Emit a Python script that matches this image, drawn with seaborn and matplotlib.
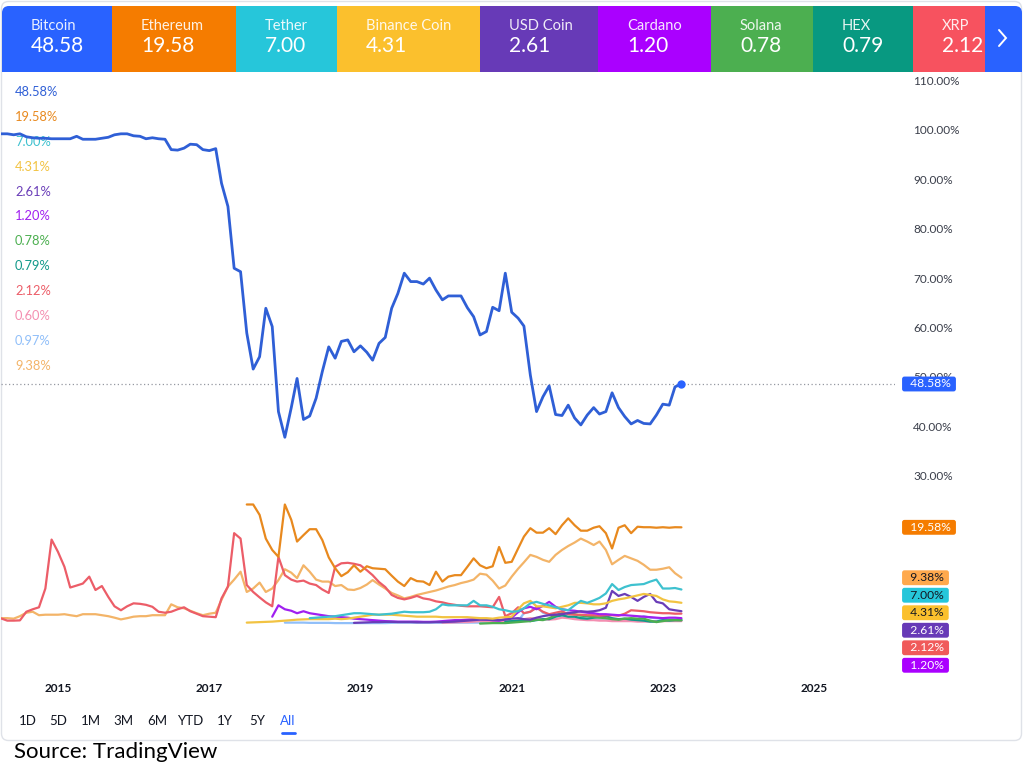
import matplotlib
matplotlib.use("Agg")
import matplotlib.pyplot as plt
import matplotlib.transforms as mtransforms
from matplotlib.patches import FancyBboxPatch
import pandas as pd
import seaborn as sns

# ---------------- data (monthly dominance, %) ----------------
coins = ["Bitcoin", "Ethereum", "Tether", "Binance Coin", "USD Coin", "Cardano",
         "Solana", "HEX", "XRP", "Polkadot", "Dogecoin", "Others"]

btc_start = "2014-04"
btc = [99.2, 99.2, 99.0, 99.2, 98.6, 98.4, 98.3, 98.3, 98.2, 98.2,
       98.2, 98.2, 98.7, 98.1, 98.1, 98.1, 98.3, 98.5, 99.0, 99.2,
       99.2, 98.8, 98.7, 98.2, 98.4, 98.2, 98.1, 96.0, 95.9, 96.3,
       97.1, 97.0, 96.0, 95.8, 96.2, 89.2, 84.5, 72.0, 71.3, 58.9,
       51.6, 54.1, 63.9, 60.2, 43.0, 37.8, 43.8, 49.7, 41.4, 42.1,
       45.7, 51.1, 56.1, 53.8, 57.2, 57.5, 55.1, 56.3, 55.0, 53.4,
       56.8, 58.0, 63.9, 66.9, 71.0, 69.3, 69.3, 68.8, 70.0, 67.6,
       65.6, 66.4, 66.4, 66.4, 64.0, 62.2, 58.5, 59.2, 64.1, 63.4,
       71.0, 63.1, 61.9, 60.3, 50.4, 43.0, 46.0, 48.2, 42.4, 42.2,
       44.3, 41.7, 40.3, 42.3, 43.8, 42.5, 43.0, 46.8, 43.8, 42.0,
       40.5, 41.2, 40.6, 40.5, 42.3, 44.5, 44.3, 48.0, 48.58]

eth_start = "2017-07"
eth = [24.2, 24.2, 22.1, 17.3, 15.0, 13.6, 24.2, 21.1, 16.7, 18.0,
       19.2, 19.2, 17.0, 13.5, 11.3, 9.7, 10.5, 11.9, 10.6, 11.7,
       11.3, 11.2, 11.1, 9.8, 8.6, 7.7, 9.3, 8.7, 8.6, 7.9,
       10.6, 8.6, 9.6, 9.9, 9.9, 11.6, 13.3, 11.9, 11.3, 11.7,
       15.6, 12.4, 12.6, 15.3, 17.7, 19.4, 18.5, 18.5, 19.4, 18.2,
       20.0, 21.4, 20.0, 18.9, 18.9, 19.5, 19.8, 18.4, 15.3, 19.5,
       20.0, 18.4, 19.7, 19.6, 19.6, 19.5, 19.6, 19.5, 19.6, 19.58]

usdt_start = "2018-05"
usdt = [1.2, 1.3, 1.4, 1.5, 1.6, 1.8, 2.0, 2.2, 2.2, 2.1,
        2.0, 1.9, 2.0, 2.1, 2.3, 2.5, 2.4, 2.4, 2.4, 2.5,
        3.0, 4.0, 3.8, 3.8, 3.8, 3.8, 4.7, 3.8, 3.8, 3.5,
        3.0, 2.8, 2.5, 2.6, 3.2, 4.2, 4.5, 4.1, 3.8, 3.4,
        3.0, 2.8, 3.8, 4.7, 4.3, 4.8, 5.3, 6.2, 8.1, 6.9,
        7.5, 7.9, 8.0, 8.1, 8.6, 9.0, 7.2, 7.2, 7.3, 7.00]

bnb_start = "2017-07"
bnb = [0.3, 0.35, 0.4, 0.45, 0.5, 0.6, 0.7, 0.8, 0.9, 0.95,
       1.0, 1.0, 1.0, 1.0, 1.1, 1.0, 1.1, 1.3, 1.5, 1.7,
       1.9, 1.9, 1.9, 1.9, 1.8, 1.7, 1.6, 1.5, 1.5, 1.5,
       1.5, 1.4, 1.4, 1.4, 1.4, 1.4, 1.3, 1.2, 1.2, 1.1,
       1.3, 1.4, 1.5, 3.0, 4.2, 4.7, 3.6, 3.6, 3.4, 3.2,
       3.5, 3.8, 4.3, 4.3, 4.2, 4.0, 4.0, 4.2, 4.7, 5.0,
       5.2, 5.5, 5.8, 6.1, 5.9, 5.7, 5.0, 4.6, 4.5, 4.31]

usdc_start = "2018-12"
usdc = [0.25, 0.3, 0.35, 0.4, 0.4, 0.45, 0.45, 0.4, 0.4, 0.4,
        0.35, 0.35, 0.35, 0.4, 0.4, 0.45, 0.5, 0.6, 0.7, 0.8,
        0.9, 0.9, 0.8, 0.8, 0.9, 1.1, 1.2, 1.0, 0.9, 1.3,
        1.6, 1.8, 1.9, 2.0, 2.2, 2.4, 2.6, 2.5, 2.6, 2.8,
        3.3, 6.7, 5.7, 6.1, 5.5, 4.7, 5.5, 6.1, 4.5, 4.2,
        3.0, 2.8, 2.61]

ada_start = "2017-11"
ada = [1.5, 3.8, 3.0, 2.7, 2.2, 2.6, 2.2, 2.0, 1.8, 1.6,
       1.5, 1.4, 1.3, 1.1, 1.0, 0.9, 0.8, 0.7, 0.6, 0.55,
       0.5, 0.5, 0.5, 0.5, 0.45, 0.45, 0.5, 0.6, 0.7, 0.8,
       0.8, 0.9, 1.0, 1.0, 0.9, 0.8, 0.7, 1.0, 1.3, 2.4,
       3.2, 3.5, 3.0, 3.7, 4.5, 3.5, 3.0, 2.8, 2.7, 2.5,
       2.3, 2.2, 2.0, 2.0, 1.9, 1.8, 1.8, 1.7, 1.6, 1.5,
       1.4, 1.3, 1.2, 1.3, 1.3, 1.20]

sol_start = "2020-08"
sol = [0.1, 0.15, 0.2, 0.2, 0.2, 0.3, 0.4, 0.5, 0.6, 0.9,
       0.8, 1.2, 1.8, 2.2, 2.2, 2.0, 1.7, 1.6, 1.5, 1.3,
       1.2, 1.0, 0.9, 1.1, 1.2, 1.1, 1.1, 0.7, 0.4, 0.6,
       0.8, 0.8, 0.78]

hex_start = "2020-12"
hex_ = [0.5, 0.6, 0.7, 0.8, 0.6, 0.8, 1.0, 1.0, 1.5, 1.8,
        1.5, 1.5, 1.2, 1.1, 1.3, 1.4, 1.6, 1.2, 1.0, 1.1,
        0.9, 0.8, 0.7, 0.5, 0.5, 0.8, 0.7, 0.8, 0.79]

xrp_start = "2014-04"
xrp = [1.15, 0.7, 0.7, 0.75, 2.5, 3.0, 3.4, 7.2, 17.1, 14.6,
       11.6, 7.4, 7.8, 8.2, 9.6, 6.9, 7.7, 5.5, 3.6, 2.8,
       3.6, 4.2, 4.1, 3.9, 3.5, 2.5, 2.3, 2.5, 3.0, 3.4,
       2.6, 2.1, 1.6, 1.5, 1.4, 5.2, 7.6, 18.4, 17.3, 7.9,
       6.5, 5.4, 4.4, 3.6, 13.6, 9.9, 9.0, 8.6, 8.8, 8.2,
       7.9, 7.0, 6.3, 11.6, 12.3, 12.4, 12.2, 11.9, 10.9, 9.9,
       8.5, 7.5, 5.9, 5.3, 5.0, 5.3, 5.7, 5.2, 5.0, 4.6,
       4.4, 4.1, 3.9, 3.7, 3.6, 3.6, 3.6, 3.5, 3.4, 5.5,
       1.6, 2.2, 3.4, 2.2, 2.5, 3.3, 2.5, 2.0, 2.3, 2.6,
       2.0, 1.9, 1.9, 1.8, 1.8, 1.7, 1.8, 1.8, 1.7, 2.1,
       2.8, 2.7, 2.6, 2.4, 2.3, 2.2, 2.2, 2.1, 2.12]

dot_start = "2020-02"
dot = [0.3, 0.3, 0.35, 0.4, 0.4, 0.5, 0.6, 0.6, 0.5, 0.5,
       0.5, 0.6, 0.8, 1.0, 1.2, 1.1, 1.0, 0.9, 1.0, 1.3,
       1.2, 1.0, 0.9, 0.8, 0.8, 0.7, 0.7, 0.6, 0.6, 0.6,
       0.6, 0.5, 0.5, 0.5, 0.6, 0.6, 0.6, 0.6, 0.60]

doge_start = "2018-01"
doge = [0.3, 0.3, 0.3, 0.3, 0.25, 0.25, 0.25, 0.25, 0.2, 0.2,
        0.2, 0.2, 0.2, 0.2, 0.2, 0.2, 0.2, 0.25, 0.3, 0.3,
        0.3, 0.3, 0.3, 0.3, 0.3, 0.3, 0.3, 0.3, 0.3, 0.3,
        0.3, 0.3, 0.3, 0.3, 0.3, 0.3, 0.5, 0.6, 2.2, 2.5,
        3.5, 2.3, 1.9, 1.8, 1.5, 1.4, 1.3, 1.2, 1.1, 1.0,
        0.9, 0.9, 0.9, 0.8, 0.8, 0.9, 1.0, 1.6, 1.3, 1.2,
        1.0, 1.0, 1.0, 0.97]

oth_start = "2014-04"
oth = [1.2, 1.2, 1.1, 1.6, 2.3, 2.5, 1.8, 1.9, 1.9, 1.9,
       2.0, 1.8, 1.6, 2.0, 2.0, 2.0, 1.8, 1.6, 1.3, 0.95,
       1.2, 1.5, 1.6, 1.6, 1.8, 1.8, 1.8, 4.0, 3.4, 3.2,
       2.7, 2.2, 1.8, 2.1, 2.3, 4.9, 7.6, 9.0, 10.6, 6.5,
       7.2, 8.4, 6.5, 7.2, 8.9, 11.1, 10.4, 9.3, 11.9, 10.6,
       9.0, 8.6, 8.6, 7.7, 7.9, 7.0, 6.9, 7.3, 8.0, 8.9,
       8.0, 7.2, 6.3, 5.8, 5.2, 5.5, 5.9, 6.2, 6.5, 6.8,
       7.2, 7.6, 7.9, 8.3, 8.6, 9.0, 10.2, 10.0, 8.8, 7.2,
       7.8, 9.6, 11.2, 12.5, 14.0, 13.6, 13.0, 12.6, 14.0, 15.0,
       15.8, 16.5, 17.3, 16.7, 16.0, 16.7, 15.0, 12.1, 13.0, 13.8,
       13.3, 12.8, 12.0, 11.0, 11.0, 11.2, 11.5, 10.3, 9.38]

# header tiles (top bar)
tile_names = ["Bitcoin", "Ethereum", "Tether", "Binance Coin", "USD Coin",
              "Cardano", "Solana", "HEX", "XRP"]
tile_values = ["48.58", "19.58", "7.00", "4.31", "2.61", "1.20", "0.78", "0.79", "2.12"]

# left legend (latest values) in display order
legend_labels = ["48.58%", "19.58%", "7.00%", "4.31%", "2.61%", "1.20%",
                 "0.78%", "0.79%", "2.12%", "0.60%", "0.97%", "9.38%"]

# price-scale badges
badge_coins = ["Bitcoin", "Ethereum", "Others", "Tether", "Binance Coin",
               "USD Coin", "XRP", "Cardano"]
badge_values = [48.58, 19.58, 9.38, 7.00, 4.31, 2.61, 2.12, 1.20]

year_ticks = [2015, 2017, 2019, 2021, 2023, 2025]
y_ticks = [30, 40, 50, 60, 70, 80, 90, 100, 110]
range_buttons = ["1D", "5D", "1M", "3M", "6M", "YTD", "1Y", "5Y", "All"]

# ---------------- styles ----------------
line_colors = {
    "Bitcoin": "#2f5fd6", "Ethereum": "#e8891e", "Tether": "#3ec1cf",
    "Binance Coin": "#f2c342", "USD Coin": "#6a3db8", "Cardano": "#a020f0",
    "Solana": "#4caf50", "HEX": "#12998a", "XRP": "#ec5d68",
    "Polkadot": "#f48fb1", "Dogecoin": "#90bff9", "Others": "#f3b468",
}
tile_colors = ["#2962ff", "#f57c00", "#26c6da", "#fbc02d", "#673ab7",
               "#aa00ff", "#4caf50", "#089981", "#f7525f"]
badge_colors = {
    "Bitcoin": "#2962ff", "Ethereum": "#f57c00", "Others": "#ffa94d",
    "Tether": "#26c6da", "Binance Coin": "#fbc02d", "USD Coin": "#673ab7",
    "XRP": "#f05a5a", "Cardano": "#aa00ff",
}
badge_text_dark = {"Others", "Tether", "Binance Coin"}

# ---------------- build frame ----------------
series = [("Bitcoin", btc_start, btc), ("Ethereum", eth_start, eth),
          ("Tether", usdt_start, usdt), ("Binance Coin", bnb_start, bnb),
          ("USD Coin", usdc_start, usdc), ("Cardano", ada_start, ada),
          ("Solana", sol_start, sol), ("HEX", hex_start, hex_),
          ("XRP", xrp_start, xrp), ("Polkadot", dot_start, dot),
          ("Dogecoin", doge_start, doge), ("Others", oth_start, oth)]
frames = []
for name, start, vals in series:
    frames.append(pd.DataFrame({
        "date": pd.date_range(start + "-01", periods=len(vals), freq="MS"),
        "share": vals, "coin": name}))
df = pd.concat(frames, ignore_index=True)

# ---------------- figure ----------------
sns.set_theme(style="white")
plt.rcParams["font.family"] = ["Lato", "DejaVu Sans"]

W, H = 1024, 769
fig = plt.figure(figsize=(W / 100, H / 100), dpi=100)
fig.patch.set_facecolor("white")

canvas = fig.add_axes([0, 0, 1, 1], zorder=0)
canvas.set_xlim(0, W)
canvas.set_ylim(H, 0)
canvas.axis("off")


def px_rect(l, t, r, b):
    return [l / W, 1 - b / H, (r - l) / W, (b - t) / H]


ax = fig.add_axes(px_rect(1, 75, 895, 675), zorder=1)
ax.set_facecolor("none")

# container border
canvas.add_patch(FancyBboxPatch((1.5, 1.5), 1020, 739,
                                boxstyle="round,pad=0,rounding_size=7",
                                fc="white", ec="#dfe2e8", lw=1.0))

# header tiles
tile_edges = [2, 112, 236, 337, 480, 598, 711, 813, 913, 985, 1022]
clip = FancyBboxPatch((2, 6), 1020, 100, boxstyle="round,pad=0,rounding_size=7",
                      transform=canvas.transData)
canvas.add_patch(clip)
clip.set_visible(False)
lefts = tile_edges[:-1]
widths = [tile_edges[k + 1] - tile_edges[k] for k in range(len(lefts))]
bars = canvas.bar(lefts, [66] * len(lefts), bottom=6, width=widths, align="edge",
                  color=tile_colors + ["#2962ff"], edgecolor="none", lw=0)
for b in bars:
    b.set_clip_path(clip)
for k, (nm, val) in enumerate(zip(tile_names, tile_values)):
    x0 = tile_edges[k] + 29
    canvas.text(x0, 26, nm, color="white", alpha=0.9, fontsize=10.5,
                ha="left", va="center")
    canvas.text(x0, 46, val, color="white", fontsize=15, ha="left", va="center")
canvas.plot([999, 1006, 999], [30, 38, 46], color="white", lw=1.4,
            solid_capstyle="round", solid_joinstyle="miter")

# left legend labels
legend_order = ["Bitcoin", "Ethereum", "Tether", "Binance Coin", "USD Coin",
                "Cardano", "Solana", "HEX", "XRP", "Polkadot", "Dogecoin", "Others"]
for k, (nm, lab) in enumerate(zip(legend_order, legend_labels)):
    canvas.text(15, 92 + 24.9 * k, lab, color=line_colors[nm], fontsize=9.3,
                ha="left", va="center")

# lines
others_order = ["Others", "Dogecoin", "Polkadot", "HEX", "Solana", "XRP",
                "Cardano", "USD Coin", "Binance Coin", "Tether", "Ethereum"]
sns.lineplot(data=df[df["coin"] != "Bitcoin"], x="date", y="share", hue="coin",
             hue_order=others_order, palette=line_colors, estimator=None,
             linewidth=1.6, legend=False, ax=ax)
btc_df = df[df["coin"] == "Bitcoin"]
sns.lineplot(data=btc_df, x="date", y="share", color=line_colors["Bitcoin"],
             estimator=None, linewidth=2.0, legend=False, ax=ax)
ax.plot(btc_df["date"].iloc[-1], btc_df["share"].iloc[-1], "o",
        color="#2962ff", ms=5, zorder=5)
ax.axhline(btc_df["share"].iloc[-1], color="#9598a1", lw=0.9, ls=(0, (1, 2)),
           zorder=0)


def px_to_date(x):
    return pd.Timestamp("2015-01-01") + pd.Timedelta(days=(x - 58) / 75.6 * 365.25)


ax.set_xlim(px_to_date(1), px_to_date(895))
ax.set_ylim(-10.3, 111.1)

ax.set_xticks([pd.Timestamp(f"{y}-01-01") for y in year_ticks])
ax.set_xticklabels([str(y) for y in year_ticks], fontweight="bold")
ax.tick_params(axis="x", length=0, pad=6, labelsize=8.5, labelcolor="#131722")
ax.yaxis.tick_right()
ax.set_yticks(y_ticks)
ax.set_yticklabels([f"{v:.2f}%" for v in y_ticks])
ax.tick_params(axis="y", length=0, pad=13, labelsize=8.5, labelcolor="#3a3e4a")
ax.set_xlabel("")
ax.set_ylabel("")
ax.grid(False)
for s in ax.spines.values():
    s.set_visible(False)

# badges on the price scale (stacked so they do not overlap)
trans = mtransforms.blended_transform_factory(ax.transAxes, ax.transData)
gap = 17.5 / 4.94
prev = None
for nm, v in zip(badge_coins, badge_values):
    pos = v
    if prev is not None and nm not in ("Ethereum",) and prev - pos < gap:
        pos = prev - gap
    prev = pos
    ax.text(1 + 9 / 894, pos, f"  {v:.2f}% ", transform=trans, ha="left",
            va="center", fontsize=8.7,
            color="#131722" if nm in badge_text_dark else "white",
            bbox=dict(boxstyle="round,pad=0.16,rounding_size=0.2",
                      fc=badge_colors[nm], ec="none"), zorder=6)

# range buttons
btn_x = [28, 58, 91, 123, 157, 191, 225, 257, 288]
for lab, bx in zip(range_buttons, btn_x):
    canvas.text(bx, 721, lab, ha="center", va="center", fontsize=9.5,
                color="#2962ff" if lab == "All" else "#131722")
canvas.plot([282, 295], [733, 733], color="#2962ff", lw=2, solid_capstyle="round")

# source
canvas.text(14, 752, "Source: TradingView", ha="left", va="center",
            fontsize=16, color="black")

fig.savefig("out.png", dpi=100, facecolor="white")
